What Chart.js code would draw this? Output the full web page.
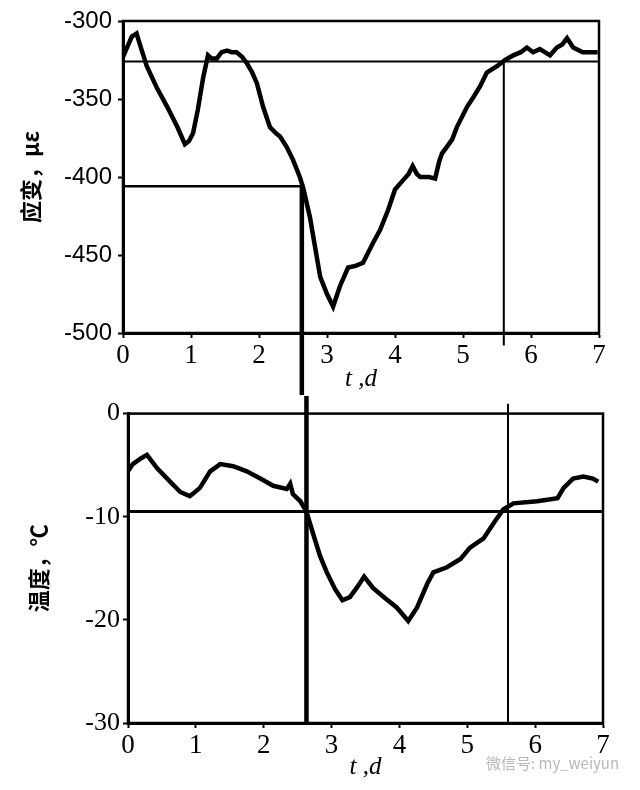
<!DOCTYPE html>
<html>
<head>
<meta charset="utf-8">
<script src="https://cdn.jsdelivr.net/npm/chart.js@4.4.1/dist/chart.umd.min.js"></script>
<style>
    html, body { margin: 0; padding: 0; background: #fff; }
    #wrap { position: relative; width: 640px; height: 790px; overflow: hidden; }
    .box { position: absolute; left: 0; width: 640px; height: 395px; }
    #topBox { top: 0; }
    #botBox { top: 395px; }
    #mark { position: absolute; left: 486px; top: 752px; font: 15px "Noto Sans CJK SC", sans-serif; color: #b8b8b8; }
</style>
</head>
<body>
<div id="wrap">
    <div class="box" id="topBox"><canvas id="strainChart"></canvas></div>
    <div class="box" id="botBox"><canvas id="tempChart"></canvas></div>
    <div id="mark">微信号: my_weiyun</div>
</div>
<script>
// strain, micro-strain vs time (days)
var strainT = [0, 0.07, 0.13, 0.2, 0.27, 0.35, 0.5, 0.65, 0.8, 0.91, 0.97, 1.03, 1.1, 1.18, 1.25, 1.3,
    1.38, 1.45, 1.53, 1.6, 1.67, 1.75, 1.82, 1.9, 1.97, 2.06, 2.16, 2.25, 2.31, 2.41, 2.5, 2.6, 2.65,
    2.75, 2.9, 3.0, 3.09, 3.19, 3.31, 3.42, 3.53, 3.68, 3.78, 3.9, 4.0, 4.12, 4.2, 4.26, 4.32, 4.37,
    4.5, 4.59, 4.65, 4.69, 4.84, 4.91, 5.06, 5.15, 5.25, 5.35, 5.5, 5.62, 5.74, 5.85, 5.94, 6.03,
    6.13, 6.28, 6.38, 6.46, 6.53, 6.62, 6.76, 6.98];
var strainVal = [-323, -316, -310, -308, -318, -329, -343, -355, -368, -379, -377, -372, -357, -336, -322, -324,
    -324, -320, -319, -320, -320, -323, -327, -333, -340, -355, -368, -372, -374, -381, -389, -400, -407,
    -426, -464, -475, -483, -470, -458, -457, -455, -442, -434, -421, -408, -402, -398, -393, -398, -400,
    -400, -401, -390, -385, -376, -368, -355, -349, -342, -333, -329, -325, -322, -320, -317, -320,
    -318, -322, -317, -315, -311, -317, -320, -320];

// temperature, deg C vs time (days)
var tempT = [0, 0.07, 0.2, 0.28, 0.43, 0.62, 0.77, 0.91, 0.97, 1.06, 1.21, 1.36, 1.55, 1.75, 1.95, 2.14,
    2.34, 2.39, 2.43, 2.54, 2.63, 2.73, 2.83, 2.93, 3.05, 3.16, 3.27, 3.38, 3.48, 3.61, 3.79, 3.96,
    4.13, 4.26, 4.41, 4.5, 4.7, 4.9, 5.04, 5.24, 5.38, 5.53, 5.68, 6.03, 6.33, 6.42, 6.56, 6.71, 6.85, 6.93];
var tempVal = [-5.6, -4.9, -4.3, -4.0, -5.3, -6.6, -7.6, -8.0, -7.7, -7.2, -5.6, -4.9, -5.1, -5.6, -6.3, -7.0,
    -7.3, -6.8, -7.8, -8.5, -9.5, -11.7, -13.8, -15.4, -17.0, -18.1, -17.8, -16.8, -15.8, -16.9, -17.9, -18.8,
    -20.1, -18.8, -16.5, -15.4, -14.9, -14.1, -13.0, -12.1, -10.7, -9.3, -8.7, -8.5, -8.2, -7.2, -6.3, -6.1, -6.3, -6.6];

// marker lines (days / values)
var guideT = [2.63, 5.6];
var strainGuide = [-406, -326];
var strainGuideEnd = [-540, -508];   // how far the verticals run below the top plot
var tempGuide = -9.5;
var tempGuideStart = [1.7, 0.96];    // how far the verticals run above the lower plot

var xTicks = [0, 7, 1];
var strainTicks = [-500, -300, 50];
var tempTicks = [-30, 0, 10];

var serif = '"Liberation Serif", "Times New Roman", serif';
var sans = '"Liberation Sans", Arial, sans-serif';
var cjk = '"Noto Sans CJK SC", sans-serif';

function pts(xs, ys) {
    return xs.map(function (x, i) { return { x: x, y: ys[i] }; });
}

function curve(xs, ys) {
    return { data: pts(xs, ys), borderColor: '#000', borderWidth: 4.5, pointRadius: 0, tension: 0, order: 1 };
}

function guide(points, width) {
    return { data: points, borderColor: '#000', borderWidth: width, pointRadius: 0, tension: 0, clip: false, order: 2 };
}

var framePlugin = {
    id: 'frame',
    beforeDatasetsDraw: function (chart) {
        var a = chart.chartArea, c = chart.ctx;
        c.save();
        c.strokeStyle = '#000';
        c.lineWidth = 2.5;
        c.strokeRect(a.left, a.top, a.right - a.left, a.bottom - a.top);
        c.restore();
    }
};

function buildOptions(o) {
    return {
        responsive: true,
        maintainAspectRatio: false,
        animation: false,
        layout: { padding: { top: o.padTop, right: o.padRight, left: 0, bottom: 0 } },
        plugins: { legend: { display: false }, tooltip: { enabled: false } },
        scales: {
            x: {
                type: 'linear', min: xTicks[0], max: xTicks[1],
                ticks: { stepSize: xTicks[2], color: '#000', padding: 2, maxRotation: 0,
                    font: { family: serif, size: 27 } },
                grid: { drawOnChartArea: false, color: '#000', tickLength: 5, tickWidth: 2 },
                border: { color: '#000', width: 3 },
                title: { display: true, text: 't ,d', color: '#000',
                    font: { family: serif, size: 25, style: 'italic' },
                    padding: { top: 0, bottom: o.xTitlePad } },
                afterFit: function (s) { s.height = o.xHeight; }
            },
            y: {
                type: 'linear', min: o.yTicks[0], max: o.yTicks[1],
                ticks: { stepSize: o.yTicks[2], color: '#000', padding: o.yTickPad,
                    font: { family: o.yFont, size: o.yFontSize } },
                grid: { drawOnChartArea: false, color: '#000', tickLength: 5, tickWidth: 2 },
                border: { color: '#000', width: 3 },
                title: { display: true, text: o.yTitle, color: '#000',
                    font: { family: cjk, size: 22, weight: 'bold' },
                    padding: { top: o.yTitlePad, bottom: 0 } },
                afterFit: function (s) { s.width = o.yWidth; }
            }
        }
    };
}

function init() {
    new Chart(document.getElementById('strainChart'), {
        type: 'line',
        data: {
            datasets: [
                curve(strainT, strainVal),
                guide([{ x: xTicks[0], y: strainGuide[1] }, { x: xTicks[1], y: strainGuide[1] }], 2),
                guide([{ x: xTicks[0], y: strainGuide[0] }, { x: guideT[0], y: strainGuide[0] }], 2.5),
                guide([{ x: guideT[0], y: strainGuide[0] }, { x: guideT[0], y: strainGuideEnd[0] }], 4.5),
                guide([{ x: guideT[1], y: strainGuide[1] }, { x: guideT[1], y: strainGuideEnd[1] }], 2)
            ]
        },
        options: buildOptions({
            padTop: 21, padRight: 41, xHeight: 62, yWidth: 123, xTitlePad: 1,
            yTicks: strainTicks, yTickPad: 6, yFont: sans, yFontSize: 24,
            yTitle: '应变，με', yTitlePad: 17
        }),
        plugins: [framePlugin]
    });

    new Chart(document.getElementById('tempChart'), {
        type: 'line',
        data: {
            datasets: [
                curve(tempT, tempVal),
                guide([{ x: xTicks[0], y: tempGuide }, { x: xTicks[1], y: tempGuide }], 3),
                guide([{ x: guideT[0], y: tempGuideStart[0] }, { x: guideT[0], y: tempTicks[0] }], 4.5),
                guide([{ x: guideT[1], y: tempGuideStart[1] }, { x: guideT[1], y: tempTicks[0] }], 2)
            ]
        },
        options: buildOptions({
            padTop: 17, padRight: 37, xHeight: 67, yWidth: 128, xTitlePad: 8,
            yTicks: tempTicks, yTickPad: 3, yFont: serif, yFontSize: 26,
            yTitle: '温度，℃', yTitlePad: 25
        }),
        plugins: [framePlugin]
    });
}

init();
</script>
</body>
</html>
